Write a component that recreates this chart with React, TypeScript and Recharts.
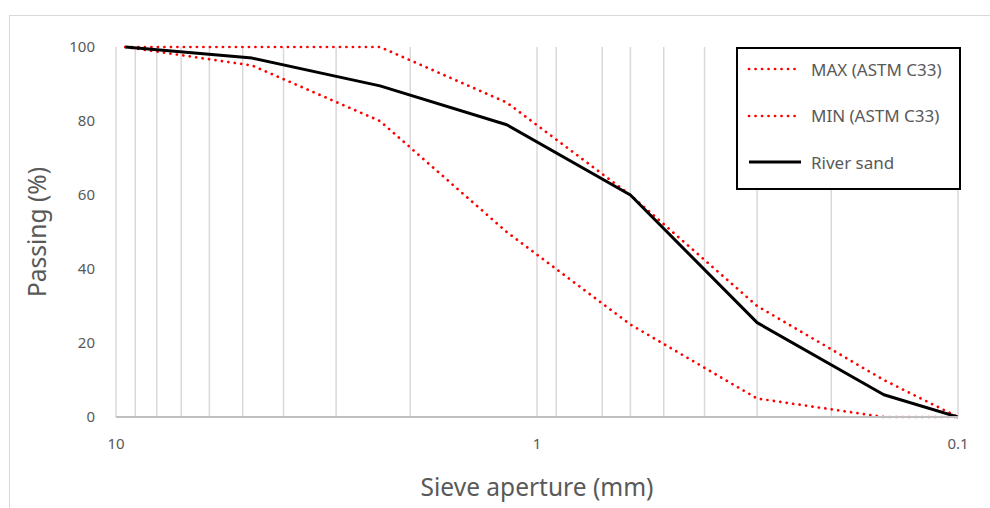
import {
  LineChart,
  Line,
  XAxis,
  YAxis,
  CartesianGrid,
  Legend,
} from 'recharts';

// sieve apertures (mm), ASTM C33 fine aggregate limits and the measured river sand
const SIEVE_SIZES = [9.5, 4.75, 2.36, 1.18, 0.6, 0.3, 0.15, 0.1];
const MAX_PASSING = [100, 100, 100, 85, 60, 30, 10, 0];
const MIN_PASSING = [100, 95, 80, 50, 25, 5, 0, 0];
const RIVER_SAND = [100, 97, 89.5, 79, 60, 25.5, 6, 0];

const X_TICKS = [10, 1, 0.1];
const Y_TICKS = [0, 20, 40, 60, 80, 100];
// log-scale minor gridlines
const GRID_X = [10, 9, 8, 7, 6, 5, 4, 3, 2, 1, 0.9, 0.8, 0.7, 0.6, 0.5, 0.4, 0.3, 0.2, 0.1];

const SERIES = [
  { key: 'max', name: 'MAX (ASTM C33)', color: '#ff0000', dotted: true },
  { key: 'min', name: 'MIN (ASTM C33)', color: '#ff0000', dotted: true },
  { key: 'sand', name: 'River sand', color: '#000000', dotted: false },
];

const FONT = '"Noto Sans", "Open Sans", sans-serif';
const TEXT = '#595959';

const data = SIEVE_SIZES.map((size, i) => ({
  size,
  max: MAX_PASSING[i],
  min: MIN_PASSING[i],
  sand: RIVER_SAND[i],
}));

function LegendBox() {
  return (
    <div
      style={{
        boxSizing: 'border-box',
        width: '100%',
        height: '100%',
        border: '2px solid #000',
        background: '#fff',
        padding: '0 0 0 9px',
        fontFamily: FONT,
      }}
    >
      {SERIES.map((s, i) => (
        <div
          key={s.key}
          style={{ display: 'flex', alignItems: 'center', height: 46.5, marginTop: i === 0 ? -3 : 0 }}
        >
          <svg width={56} height={8} style={{ marginRight: 8 }}>
            <line
              x1={2}
              y1={4}
              x2={54}
              y2={4}
              stroke={s.color}
              strokeWidth={s.dotted ? 2.7 : 3}
              strokeDasharray={s.dotted ? '0.1 6.4' : undefined}
              strokeLinecap={s.dotted ? 'round' : 'butt'}
            />
          </svg>
          <span style={{ fontSize: 17, color: TEXT }}>{s.name}</span>
        </div>
      ))}
    </div>
  );
}

export default function App() {
  return (
    <div
      style={{
        position: 'absolute',
        left: 0,
        top: 0,
        width: 990,
        height: 508,
        background: '#fff',
        overflow: 'hidden',
      }}
    >
      <div
        style={{
          position: 'absolute',
          left: 9,
          top: 15,
          width: 1000,
          height: 520,
          borderLeft: '1.5px solid #d9d9d9',
          borderTop: '1.5px solid #d9d9d9',
        }}
      />
      <LineChart
        width={990}
        height={508}
        data={data}
        margin={{ top: 47, right: 32, bottom: 0, left: 0 }}
        style={{ position: 'absolute', left: 0, top: 0 }}
      >
        <CartesianGrid horizontal={false} verticalValues={GRID_X} stroke="#d9d9d9" strokeWidth={1.5} />
        <XAxis
          dataKey="size"
          type="number"
          scale="log"
          domain={[0.1, 10]}
          reversed
          allowDataOverflow
          ticks={X_TICKS}
          tickFormatter={(v: number) => String(v)}
          height={91}
          tickSize={0}
          tickMargin={21}
          axisLine={{ stroke: '#bfbfbf', strokeWidth: 2 }}
          tick={{ fill: TEXT, fontSize: 15, fontFamily: FONT }}
          label={{
            value: 'Sieve aperture (mm)',
            position: 'center',
            dy: 25,
            fill: TEXT,
            fontSize: 24.5,
            fontFamily: FONT,
          }}
        />
        <YAxis
          type="number"
          domain={[0, 100]}
          ticks={Y_TICKS}
          width={116}
          tickSize={0}
          tickMargin={21}
          axisLine={false}
          tick={{ fill: TEXT, fontSize: 15, fontFamily: FONT }}
          label={{
            value: 'Passing (%)',
            angle: -90,
            position: 'center',
            dx: -21,
            fill: TEXT,
            fontSize: 24.5,
            fontFamily: FONT,
          }}
        />
        <Legend
          layout="vertical"
          align="center"
          verticalAlign="middle"
          wrapperStyle={{ left: 736, top: 47, width: 225, height: 143 }}
          content={() => <LegendBox />}
        />
        {SERIES.map((s) => (
          <Line
            key={s.key}
            dataKey={s.key}
            name={s.name}
            type="linear"
            stroke={s.color}
            strokeWidth={s.dotted ? 2.7 : 3}
            strokeDasharray={s.dotted ? '0.1 6.4' : undefined}
            strokeLinecap={s.dotted ? 'round' : 'butt'}
            strokeLinejoin="round"
            dot={false}
            activeDot={false}
            isAnimationActive={false}
          />
        ))}
      </LineChart>
    </div>
  );
}
